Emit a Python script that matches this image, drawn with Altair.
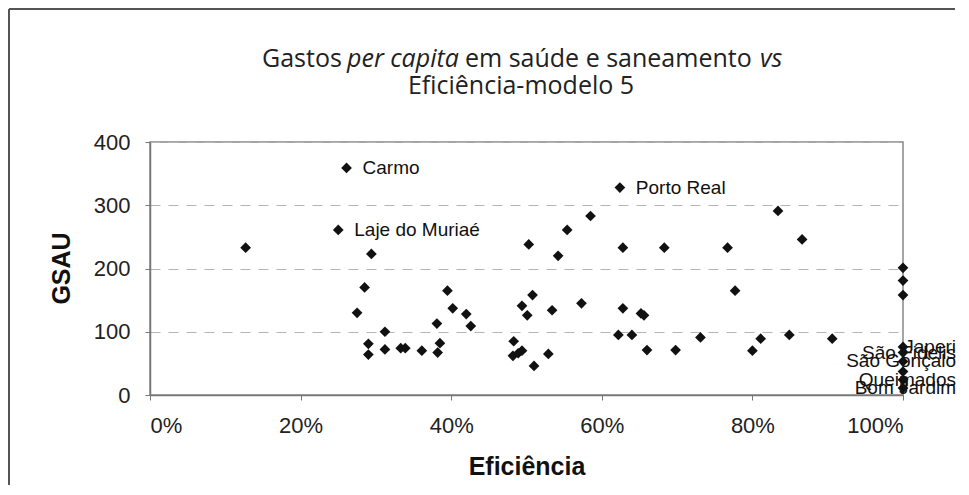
import altair as alt
import pandas as pd

# Eficiência (%) and GSAU (gastos per capita)
eficiencia = [12.7, 26.1, 25.0, 29.4, 28.5, 27.5, 29.0, 29.0, 31.2, 31.2,
              33.3, 33.9, 36.1, 38.1, 38.5, 38.2, 39.5, 40.2, 42.0, 42.6,
              48.3, 48.2, 48.9, 49.4, 49.4, 50.1, 50.8, 51.0, 50.3, 52.9,
              53.4, 54.2, 55.4, 57.3, 58.5, 62.4, 62.8, 62.8, 62.2, 64.0,
              65.2, 65.6, 66.0, 68.3, 76.7, 86.6, 83.4, 77.7, 73.1, 84.9,
              81.1, 90.6, 80.0, 69.8,
              100, 100, 100, 100, 100, 100, 100, 100, 100]
gsau = [233, 359, 261, 223, 170, 130, 81, 64, 100, 72,
        74, 74, 70, 113, 82, 67, 165, 137, 128, 109,
        85, 62, 66, 70, 141, 126, 158, 46, 238, 65,
        134, 220, 261, 145, 283, 328, 233, 137, 95, 95,
        129, 126, 71, 233, 233, 246, 291, 165, 91, 95,
        89, 89, 70, 71,
        201, 181, 158, 76, 67, 53, 37, 24, 11]
municipio = ["", "Carmo", "Laje do Muriaé", "", "", "", "", "", "", "",
             "", "", "", "", "", "", "", "", "", "",
             "", "", "", "", "", "", "", "", "", "",
             "", "", "", "", "", "Porto Real", "", "", "", "",
             "", "", "", "", "", "", "", "", "", "",
             "", "", "", "",
             "", "", "", "Japeri", "São Fidelis", "São Gonçalo", "", "Queimados", "Bom Jardim"]

labels_right = ["Carmo", "Laje do Muriaé", "Porto Real"]
labels_edge = ["Japeri", "São Fidelis", "São Gonçalo", "Queimados", "Bom Jardim"]

x_ticks = [0, 0.2, 0.4, 0.6, 0.8, 1.0]
y_ticks = [0, 100, 200, 300, 400]

title_parts = ["Gastos", "per capita", "em saúde e saneamento", "vs"]
title_line2 = "Eficiência-modelo 5"

df = pd.DataFrame({"ef": [v / 100 for v in eficiencia], "gsau": gsau, "mun": municipio})
one = pd.DataFrame({"k": [0]})

FONT = "Liberation Sans"
TFONT = "Open Sans"
TSIZE = 25

x_enc = alt.X("ef:Q", scale=alt.Scale(domain=[0, 1], nice=False),
              axis=alt.Axis(values=x_ticks, format=".0%", title="Eficiência",
                            grid=False, titleY=71, titleBaseline="middle"))
y_enc = alt.Y("gsau:Q", scale=alt.Scale(domain=[0, 400], nice=False),
              axis=alt.Axis(values=y_ticks, title="GSAU", grid=True,
                            titleAngle=-90, titleX=-89, titleY=126,
                            titleBaseline="middle"))

base = alt.Chart(df)
points = base.mark_point(shape="diamond", filled=True, size=115, color="#111111",
                         opacity=1).encode(x=x_enc, y=y_enc)

lab_r = base.transform_filter(
    alt.FieldOneOfPredicate(field="mun", oneOf=labels_right)
).mark_text(align="left", baseline="middle", dx=16, fontSize=19, font=FONT,
            color="#111111").encode(x="ef:Q", y="gsau:Q", text="mun:N")

lab_e = base.transform_filter(
    alt.FieldOneOfPredicate(field="mun", oneOf=labels_edge)
).mark_text(align="right", baseline="middle", dx=53, fontSize=19, font=FONT,
            color="#111111").encode(x="ef:Q", y="gsau:Q", text="mun:N")

tbase = alt.Chart(one)


def title_text(txt, xpos, ypos, italic=False, align="left"):
    kw = dict(text=txt, font=TFONT, fontSize=TSIZE, align=align,
              baseline="alphabetic", color="#222222")
    if italic:
        kw["fontStyle"] = "italic"
    return tbase.mark_text(**kw).encode(x=alt.value(xpos), y=alt.value(ypos))


t1 = title_text(title_parts[0], 112, -75)
t2 = title_text(title_parts[1], 197, -75, italic=True)
t3 = title_text(title_parts[2], 315, -75)
t4 = title_text(title_parts[3], 610, -75, italic=True)
t5 = title_text(title_line2, 371, -48, align="center")

frame_top = tbase.mark_rule(color="#555555", strokeWidth=2).encode(
    x=alt.value(-141), x2=alt.value(805), y=alt.value(-133))
frame_left = tbase.mark_rule(color="#555555", strokeWidth=2).encode(
    x=alt.value(-141), y=alt.value(-133), y2=alt.value(345))

chart = alt.layer(frame_top, frame_left, points, lab_r, lab_e, t1, t2, t3, t4, t5).properties(
    width=753, height=253,
    autosize=alt.AutoSizeParams(type="none"),
    padding={"left": 142, "top": 134, "right": 56, "bottom": 90},
).configure_view(
    stroke="#888888", strokeWidth=1.5
).configure_axis(
    labelFont=FONT, labelFontSize=22, labelColor="#222222",
    titleFont=FONT, titleFontSize=25, titleFontWeight="bold", titleColor="#111111",
    domainColor="#777777", domainWidth=1.5, tickColor="#777777", tickSize=5,
    labelPadding=15, gridColor="#b5b5b5", gridDash=[10, 8], gridWidth=1,
)

chart.save("out.html", embed_options={"renderer": "svg", "actions": False})
